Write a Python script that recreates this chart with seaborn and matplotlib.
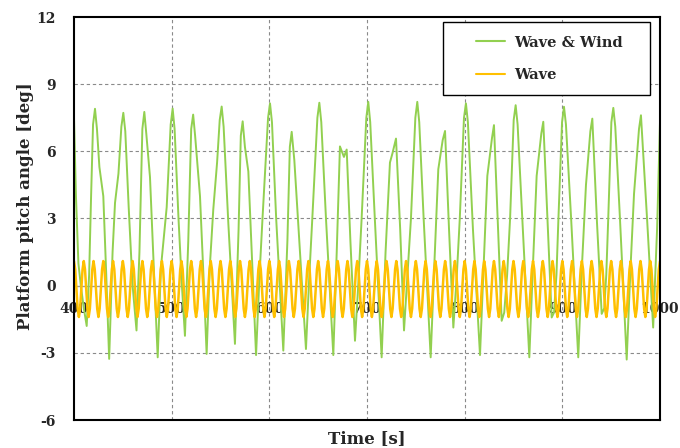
import numpy as np
import pandas as pd
import seaborn as sns
import matplotlib.pyplot as plt
from matplotlib.patches import Rectangle

# Wave & Wind: pitch angle (one peak/trough unit per row)
wind_time = [400, 402, 404.5, 407, 410, 413,
             415.5, 417.5, 419.5, 421.5, 423.5, 426, 430, 433, 436,
             439.5, 442, 445.5, 448.5, 450.5, 452.5, 456, 460, 464,
             467, 470, 472, 474, 477.8, 482, 485.7,
             489, 494.9, 499, 501, 503, 507, 510.5, 513.6,
             517, 520, 522, 524, 529, 532.5, 535.8,
             539, 542.6, 546.5, 549.2, 551.2, 553.2, 558, 564.8,
             568.5, 570.8, 572.7, 575, 578.5, 582.5, 586.4,
             590, 593, 598.7, 600.7, 602.7, 607, 614.3,
             618.5, 621, 622.9, 625.6, 630, 637.5,
             641, 644, 649.2, 651.2, 653.2, 658, 665.5,
             669, 672.3, 676.4, 679.2, 683, 687.7,
             691, 694.5, 699.3, 701.3, 703.3, 708, 715,
             719, 723.5, 726, 729.7, 734, 737.9,
             741.5, 745, 749.5, 751.5, 753.5, 758, 765.2,
             769, 773, 777.5, 779.9, 784, 788.4,
             792, 795, 799.3, 801.3, 803.3, 808.5, 815.7,
             819.5, 823.2, 828, 830, 834, 837.9, 840.5,
             843.5, 846.5, 850.2, 852.2, 854.2, 859, 866.2,
             870, 873.7, 878.5, 880.5, 885, 889.1, 891.5,
             894, 896, 899.7, 901.7, 903.7, 909, 916.3,
             920, 924.2, 928.7, 930.7, 935.5, 940.3, 943,
             945, 947, 950.2, 952.2, 954.2, 959, 965.9,
             969.5, 973.4, 978.5, 980.5, 987, 993, 997, 1000]
wind_pitch = [7.5, 4.0, 1.0, 0.0, -1.0, -1.8,
              0.5, 4.0, 7.2, 7.9, 7.0, 5.3, 4.0, 0.5, -3.27,
              1.5, 3.7, 5.0, 7.1, 7.72, 6.9, 3.5, 0.0, -2.0,
              1.5, 7.0, 7.76, 6.8, 4.85, 0.5, -3.2,
              0.8, 3.5, 7.2, 7.91, 7.0, 3.0, 0.0, -2.24,
              2.0, 7.0, 7.64, 6.7, 4.0, 0.5, -3.05,
              0.8, 3.4, 5.5, 7.4, 8.0, 7.1, 2.8, -2.6,
              2.5, 6.7, 7.34, 6.2, 5.1, 1.0, -3.1,
              0.5, 3.0, 7.5, 8.14, 7.3, 3.0, -2.9,
              2.0, 6.2, 6.87, 5.6, 2.5, -2.83,
              0.5, 3.0, 7.5, 8.17, 7.3, 3.0, -3.1,
              1.5, 6.22, 5.75, 6.08, 2.0, -2.46,
              0.0, 3.0, 7.5, 8.21, 7.3, 3.0, -3.2,
              1.5, 5.5, 5.9, 6.57, 2.5, -2.0,
              0.5, 3.0, 7.5, 8.21, 7.3, 3.0, -3.2,
              1.0, 5.2, 6.5, 6.91, 2.5, -1.87,
              0.5, 3.0, 7.5, 8.14, 7.3, 2.5, -3.1,
              1.0, 4.9, 6.6, 7.17, 2.8, -1.57, -1.2,
              0.5, 3.0, 7.4, 8.06, 7.2, 3.0, -3.2,
              1.0, 4.9, 6.8, 7.32, 2.8, -1.42, -1.2,
              0.5, 3.0, 7.3, 7.99, 7.2, 3.0, -3.2,
              0.8, 4.5, 6.9, 7.46, 2.8, -1.26, -1.0,
              0.5, 3.0, 7.3, 7.94, 7.1, 3.0, -3.3,
              0.5, 4.1, 7.0, 7.61, 2.8, -1.87, 2.5, 7.3]

# Wave only: values read every 1.25 s (one 10 s cycle per row)
wave_time = np.arange(400, 1000.1, 1.25)
wave_pitch = [
    1.1, 0.73, -0.15, -1.03, -1.4, -1.03, -0.15, 0.73,  # 400
    1.1, 0.73, -0.15, -1.03, -1.4, -1.03, -0.15, 0.73,
    1.1, 0.73, -0.15, -1.03, -1.4, -1.03, -0.15, 0.73,
    1.1, 0.73, -0.15, -1.03, -1.4, -1.03, -0.15, 0.73,
    1.1, 0.73, -0.15, -1.03, -1.4, -1.03, -0.15, 0.73,
    1.1, 0.73, -0.15, -1.03, -1.4, -1.03, -0.15, 0.73,
    1.1, 0.73, -0.15, -1.03, -1.4, -1.03, -0.15, 0.73,
    1.1, 0.73, -0.15, -1.03, -1.4, -1.03, -0.15, 0.73,
    1.1, 0.73, -0.15, -1.03, -1.4, -1.03, -0.15, 0.73,
    1.1, 0.73, -0.15, -1.03, -1.4, -1.03, -0.15, 0.73,
    1.1, 0.73, -0.15, -1.03, -1.4, -1.03, -0.15, 0.73,  # 500
    1.1, 0.73, -0.15, -1.03, -1.4, -1.03, -0.15, 0.73,
    1.1, 0.73, -0.15, -1.03, -1.4, -1.03, -0.15, 0.73,
    1.1, 0.73, -0.15, -1.03, -1.4, -1.03, -0.15, 0.73,
    1.1, 0.73, -0.15, -1.03, -1.4, -1.03, -0.15, 0.73,
    1.1, 0.73, -0.15, -1.03, -1.4, -1.03, -0.15, 0.73,
    1.1, 0.73, -0.15, -1.03, -1.4, -1.03, -0.15, 0.73,
    1.1, 0.73, -0.15, -1.03, -1.4, -1.03, -0.15, 0.73,
    1.1, 0.73, -0.15, -1.03, -1.4, -1.03, -0.15, 0.73,
    1.1, 0.73, -0.15, -1.03, -1.4, -1.03, -0.15, 0.73,
    1.1, 0.73, -0.15, -1.03, -1.4, -1.03, -0.15, 0.73,  # 600
    1.1, 0.73, -0.15, -1.03, -1.4, -1.03, -0.15, 0.73,
    1.1, 0.73, -0.15, -1.03, -1.4, -1.03, -0.15, 0.73,
    1.1, 0.73, -0.15, -1.03, -1.4, -1.03, -0.15, 0.73,
    1.1, 0.73, -0.15, -1.03, -1.4, -1.03, -0.15, 0.73,
    1.1, 0.73, -0.15, -1.03, -1.4, -1.03, -0.15, 0.73,
    1.1, 0.73, -0.15, -1.03, -1.4, -1.03, -0.15, 0.73,
    1.1, 0.73, -0.15, -1.03, -1.4, -1.03, -0.15, 0.73,
    1.1, 0.73, -0.15, -1.03, -1.4, -1.03, -0.15, 0.73,
    1.1, 0.73, -0.15, -1.03, -1.4, -1.03, -0.15, 0.73,
    1.1, 0.73, -0.15, -1.03, -1.4, -1.03, -0.15, 0.73,  # 700
    1.1, 0.73, -0.15, -1.03, -1.4, -1.03, -0.15, 0.73,
    1.1, 0.73, -0.15, -1.03, -1.4, -1.03, -0.15, 0.73,
    1.1, 0.73, -0.15, -1.03, -1.4, -1.03, -0.15, 0.73,
    1.1, 0.73, -0.15, -1.03, -1.4, -1.03, -0.15, 0.73,
    1.1, 0.73, -0.15, -1.03, -1.4, -1.03, -0.15, 0.73,
    1.1, 0.73, -0.15, -1.03, -1.4, -1.03, -0.15, 0.73,
    1.1, 0.73, -0.15, -1.03, -1.4, -1.03, -0.15, 0.73,
    1.1, 0.73, -0.15, -1.03, -1.4, -1.03, -0.15, 0.73,
    1.1, 0.73, -0.15, -1.03, -1.4, -1.03, -0.15, 0.73,
    1.1, 0.73, -0.15, -1.03, -1.4, -1.03, -0.15, 0.73,  # 800
    1.1, 0.73, -0.15, -1.03, -1.4, -1.03, -0.15, 0.73,
    1.1, 0.73, -0.15, -1.03, -1.4, -1.03, -0.15, 0.73,
    1.1, 0.73, -0.15, -1.03, -1.4, -1.03, -0.15, 0.73,
    1.1, 0.73, -0.15, -1.03, -1.4, -1.03, -0.15, 0.73,
    1.1, 0.73, -0.15, -1.03, -1.4, -1.03, -0.15, 0.73,
    1.1, 0.73, -0.15, -1.03, -1.4, -1.03, -0.15, 0.73,
    1.1, 0.73, -0.15, -1.03, -1.4, -1.03, -0.15, 0.73,
    1.1, 0.73, -0.15, -1.03, -1.4, -1.03, -0.15, 0.73,
    1.1, 0.73, -0.15, -1.03, -1.4, -1.03, -0.15, 0.73,
    1.1, 0.73, -0.15, -1.03, -1.4, -1.03, -0.15, 0.73,  # 900
    1.1, 0.73, -0.15, -1.03, -1.4, -1.03, -0.15, 0.73,
    1.1, 0.73, -0.15, -1.03, -1.4, -1.03, -0.15, 0.73,
    1.1, 0.73, -0.15, -1.03, -1.4, -1.03, -0.15, 0.73,
    1.1, 0.73, -0.15, -1.03, -1.4, -1.03, -0.15, 0.73,
    1.1, 0.73, -0.15, -1.03, -1.4, -1.03, -0.15, 0.73,
    1.1, 0.73, -0.15, -1.03, -1.4, -1.03, -0.15, 0.73,
    1.1, 0.73, -0.15, -1.03, -1.4, -1.03, -0.15, 0.73,
    1.1, 0.73, -0.15, -1.03, -1.4, -1.03, -0.15, 0.73,
    1.1, 0.73, -0.15, -1.03, -1.4, -1.03, -0.15, 0.73,
    1.1,  # 1000
]

x_ticks = [400, 500, 600, 700, 800, 900, 1000]
y_ticks = [-6, -3, 0, 3, 6, 9, 12]
y_tick_labels = ["-6", "-3", "0", "3", "6", "9", "12"]

df_wind = pd.DataFrame({"time": wind_time, "pitch": wind_pitch})
df_wave = pd.DataFrame({"time": wave_time, "pitch": wave_pitch})

sns.set_style("white")
plt.rcParams["font.family"] = ["DejaVu Serif"]
plt.rcParams["axes.unicode_minus"] = False

fig = plt.figure(figsize=(6.8, 4.48), dpi=100)
ax = fig.add_axes([74 / 680, 28 / 448, 586 / 680, 403 / 448])

# Grid lines (dashed) and the zero line
for x in x_ticks[1:-1]:
    ax.axvline(x, color="#8a8a8a", lw=0.8, dashes=(3, 2.5), zorder=0)
for y in [-3, 3, 6, 9]:
    ax.axhline(y, color="#8a8a8a", lw=0.8, dashes=(3, 2.5), zorder=0)
ax.axhline(0, color="#9a9a9a", lw=1.0, zorder=0)

sns.lineplot(data=df_wind, x="time", y="pitch", ax=ax, color="#92D050",
             lw=1.4, sort=False, estimator=None, label="Wave & Wind")
sns.lineplot(data=df_wave, x="time", y="pitch", ax=ax, color="#FFC000",
             lw=1.8, sort=False, estimator=None, label="Wave")

ax.set_xticks(x_ticks)
ax.set_xticklabels([])
ax.set_yticks(y_ticks)
ax.set_yticklabels(y_tick_labels, fontsize=10, fontweight="bold")
ax.tick_params(axis="both", length=0)
ax.tick_params(axis="y", pad=13)

# x tick labels sit just under the zero line
sec = ax.secondary_xaxis(6 / 18)
sec.set_xticks(x_ticks)
sec.set_xticklabels([str(t) for t in x_ticks], fontsize=10, fontweight="bold")
sec.tick_params(length=0, pad=12)
sec.spines["bottom"].set_visible(False)

ax.set_xlim(400, 1000)
ax.set_ylim(-6, 12)

for s in ax.spines.values():
    s.set_color("black")
    s.set_linewidth(1.5)

ax.set_xlabel("Time [s]", fontsize=12, fontweight="bold", labelpad=4)
ax.set_ylabel("Platform pitch angle [deg]", fontsize=12, fontweight="bold")
ax.yaxis.set_label_coords(-0.068, 0.53)

# Legend box drawn by hand so it can be wider than its content
ax.add_patch(Rectangle((0.6297, 0.806), 0.353, 0.181, transform=ax.transAxes,
                       facecolor="white", edgecolor="black", lw=1.0, zorder=4.9))
leg = ax.legend(loc="upper left", bbox_to_anchor=(0.686, 0.954), frameon=False,
                prop={"weight": "bold", "size": 10.5}, handlelength=2.0,
                handletextpad=0.6, labelspacing=1.3, borderpad=0, borderaxespad=0)
for h in leg.get_lines():
    h.set_linewidth(1.5)

fig.savefig("out.png", dpi=100)
